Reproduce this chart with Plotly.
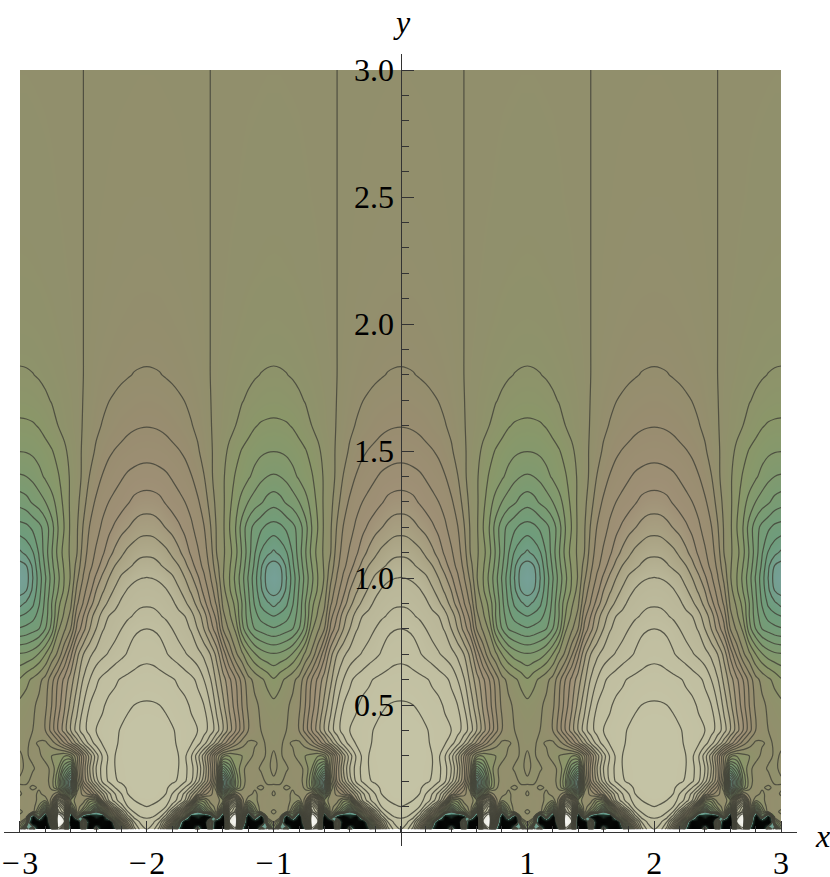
import numpy as np
import plotly.graph_objects as go

# distance from the nearest even x (light lobe) to the nearest odd x (dark lobe)
dx_cols = [0, .05, .1, .15, .2, .25, .3, .35, .4, .45, .5, .55, .6, .65, .7, .75, .8, .85, .9, .95, 1]

y_rows = [.01, .04, .06, .08, .1, .125, .15, .175, .2, .25, .3, .35, .4, .5, .6, .7, .8, .85, .9, .95,
          1.0, 1.05, 1.1, 1.2, 1.3, 1.4, 1.5, 1.6, 1.7, 1.8, 1.9, 2.0, 2.2, 2.5, 3.0]

z_rows = [
    [10, 9.3, 7.5, 3, -4, -14, -28, -24, -4, -28, -3, -28, -22, 10, 15, -12, -28, -24, -3, -14, -2],
    [10.5, 10.2, 9, 6, 1.5, -5, -24, -20, -26, -22, -2, -24, -26, 16, 19, -2, -24, -22, -24, -3, .5],
    [11.2, 11, 10.3, 8.5, 5, .5, -3.5, -22, -16, -24, -18, -4, -22, 15, 18, 2, -22, -6, -20, .6, .4],
    [11.7, 11.6, 11.1, 10, 7.5, 4, .5, -5, -11.5, -6, -3, .5, -9, 12, 14.5, 3, -9, -3, .6, .5, -.3],
    [12, 11.9, 11.6, 11, 9.5, 7.5, 4.5, -1, -6, -3.5, -.8, .6, -3, 10, 13.5, 2, -5, -1.2, .6, .3, .4],
    [12.2, 12.15, 12, 11.4, 10.7, 9.6, 8, 5.2, -1, -1.5, .5, .8, -1, 6, 9, 1.5, -.7, -.4, .6, .3, .5],
    [12.4, 12.35, 12.15, 12, 11, 10, 8.7, 6.7, 4.7, 2.5, 1.2, .5, -6, -2, 1.8, .6, .5, -.3, .5, .6, -.2],
    [12.45, 12.4, 12.3, 12.15, 11.7, 11, 10, 8.7, 6.6, 4.4, 2.5, -1, -12, -7, -2.5, -.3, .7, .2, -.3, .4, .2],
    [12.5, 12.48, 12.42, 12.3, 12.15, 11.9, 11.15, 10.2, 8.4, 6.3, 4, 0, -12.5, -8, -3, -.5, .5, .3, .6, -.4, -.2],
    [12.6, 12.55, 12.5, 12.35, 12.15, 12, 11.3, 10.4, 9, 7, 4.3, 1, -7, -5, -2, -.3, .4, .5, -.2, -.3, .3],
    [12.7, 12.65, 12.6, 12.45, 12.25, 12, 11.2, 10.1, 8.5, 6.5, 4, 1, -1.4, -1.9, -1.4, -1, -.4, .2, .4, -.2, .1],
    [12.65, 12.6, 12.55, 12.45, 12.2, 11.85, 11.5, 11.1, 10.4, 9.4, 8, 6.35, 4.65, 3, 1.5, .5, -.2, -.1, .15, -.1, -.15],
    [12.55, 12.52, 12.48, 12.4, 12.1, 11.8, 11.55, 11.3, 11, 10.4, 9.6, 8.5, 7, 5.5, 4, 2.4, 1, .5, 0, -.1, -.25],
    [12.1, 12.08, 12, 11.8, 11.6, 11.35, 11.25, 10.85, 10.4, 10, 9, 7.7, 6.3, 4.85, 3.45, 2, .75, .25, -.2, -.5, -.7],
    [11.5, 11.45, 11.35, 11.25, 11.1, 10.85, 10.55, 10.25, 9.8, 9, 8.1, 6.75, 5.5, 4.25, 3, 1.6, .35, -.3, -.8, -1.3, -1.9],
    [10.7, 10.65, 10.45, 10.1, 9.75, 9.45, 9.1, 8.75, 8.35, 7.8, 7, 5.7, 3.7, 1.85, .25, -.75, -2, -2.9, -3.5, -3.8, -3.9],
    [10, 9.95, 9.8, 9.5, 9, 8.6, 8.3, 7.9, 7, 6, 4.65, 3.3, 1, -.2, -1.2, -3.6, -5, -6, -6.4, -6.7, -6.9],
    [9.4, 9.35, 9.1, 8.8, 8.55, 8.3, 8, 7.35, 6.5, 5.55, 4, 2.65, .3, -.75, -2, -4, -5.5, -6.6, -7.4, -7.75, -8],
    [8.85, 8.8, 8.65, 8.4, 8.2, 7.7, 7.2, 6.55, 5.65, 4.45, 3.1, 1.85, -.2, -1.2, -2.35, -4, -5.7, -7.1, -8.2, -8.8, -9.35],
    [8.5, 8.45, 8.3, 8.1, 7.7, 7.2, 6.55, 5.85, 5, 3.65, 2.65, 1.3, -.6, -1.8, -3, -4.4, -5.9, -7.4, -8.8, -10, -10.4],
    [8.03, 7.97, 7.85, 7.55, 7.2, 6.55, 6, 5.25, 4.2, 3.2, 2.1, .8, -.9, -1.95, -3.25, -4.6, -6.1, -7.55, -9.05, -10.45, -10.9],
    [7.4, 7.35, 7.1, 6.75, 6.4, 6, 5.3, 4.4, 3.5, 2.7, 1.75, .35, -.85, -1.8, -3, -4.3, -5.8, -7.2, -8.8, -10, -10.4],
    [6.8, 6.75, 6.55, 6.25, 5.8, 5.25, 4.6, 3.8, 3.15, 2.45, 1.5, 0, -.8, -1.6, -2.7, -4.1, -5.5, -6.9, -8.1, -8.7, -9.2],
    [5.6, 5.55, 5.3, 4.95, 4.64, 4.18, 3.7, 3.17, 2.6, 2.05, 1.1, -.1, -.8, -1.95, -3, -4.4, -5.55, -6.3, -6.8, -7.25, -7.4],
    [4.45, 4.4, 4.25, 3.9, 3.55, 3.3, 3, 2.65, 2.15, 1.55, .65, -.3, -.8, -1.7, -2.6, -3.35, -4, -4.5, -4.85, -5.35, -5.6],
    [3.45, 3.42, 3.3, 3.15, 2.9, 2.62, 2.35, 2.05, 1.55, 1.05, .2, -.35, -.85, -1.5, -2.1, -2.45, -2.85, -3.3, -3.75, -4, -4.1],
    [2.6, 2.57, 2.5, 2.38, 2.2, 2.05, 1.85, 1.5, 1.15, .6, .15, -.3, -.7, -1.17, -1.65, -2.07, -2.35, -2.6, -2.8, -2.93, -2.97],
    [1.96, 1.94, 1.88, 1.78, 1.65, 1.48, 1.27, 1.07, .75, .38, .05, -.2, -.45, -.72, -1, -1.33, -1.65, -1.93, -2.1, -2.17, -2.2],
    [1.5, 1.48, 1.42, 1.33, 1.25, 1.12, .98, .75, .52, .26, .02, -.18, -.38, -.58, -.76, -.95, -1.13, -1.3, -1.43, -1.52, -1.55],
    [1.08, 1.07, 1.03, .95, .86, .76, .65, .53, .39, .2, 0, -.13, -.27, -.42, -.57, -.7, -.82, -.93, -1.02, -1.07, -1.09],
    [.83, .81, .79, .73, .66, .58, .5, .4, .29, .15, 0, -.1, -.2, -.32, -.43, -.53, -.62, -.71, -.78, -.82, -.83],
    [.65, .64, .62, .57, .52, .46, .39, .31, .22, .11, 0, -.07, -.15, -.24, -.33, -.41, -.49, -.56, -.61, -.64, -.65],
    [.42, .41, .4, .37, .33, .29, .25, .2, .14, .07, 0, -.05, -.1, -.15, -.21, -.26, -.31, -.36, -.39, -.41, -.42],
    [.25, .25, .24, .22, .2, .18, .15, .12, .08, .04, 0, -.03, -.06, -.09, -.12, -.16, -.19, -.21, -.23, -.25, -.25],
    [.12, .12, .11, .1, .09, .08, .07, .05, .03, .02, 0, -.01, -.02, -.03, -.05, -.07, -.09, -.1, -.11, -.12, -.12],
]

color_z = [-30, -20, -14, -12.5, -11, -8, -5, -2, 0, 2, 4, 6, 8, 10, 13, 15, 20]
color_hex = ["#000000", "#060806", "#20332b", "#5f9a87", "#76a098", "#6e9c7c", "#7a9b72", "#8a9769",
             "#918f6c", "#998d70", "#9f9076", "#a9a283", "#b9b698", "#c0bea0", "#c5c4a6", "#e5e5d8", "#ffffff"]

x_ticks = [-3, -2, -1, 1, 2, 3]
x_tick_text = ["\u2212\u200a3", "\u2212\u200a2", "\u2212\u200a1", "1", "2", "3"]
y_ticks = [.5, 1, 1.5, 2, 2.5, 3]
y_tick_text = ["0.5", "1.0", "1.5", "2.0", "2.5", "3.0"]

# the field repeats every 2 in x and mirrors about each lobe, so one half period is tiled out
half = np.array(z_rows)
x_full = np.arange(-60, 61) / 20
col_idx = [int(round(abs(((x + 1) % 2) - 1) / .05)) for x in x_full]
z_full = half[:, col_idx]

colorscale = [[(z + 30) / 50, c] for z, c in zip(color_z, color_hex)]

SERIF = "Liberation Serif"

fig = go.Figure(
    go.Contour(
        x=x_full,
        y=y_rows,
        z=z_full,
        zmin=-30,
        zmax=20,
        colorscale=colorscale,
        showscale=False,
        contours=dict(coloring="heatmap", start=-12, end=16, size=1, showlines=True),
        line=dict(color="rgba(68,68,58,0.85)", width=1.2, smoothing=1),
        hoverinfo="skip",
    )
)
fig.update_layout(
    width=830,
    height=877,
    margin=dict(l=4, r=33, t=54, b=31, autoexpand=False),
    paper_bgcolor="white",
    plot_bgcolor="white",
    font=dict(family=SERIF, size=32, color="black"),
    xaxis=dict(
        range=[-3.126, 3.126],
        anchor="free",
        position=0.0176,
        automargin=False,
        showgrid=False,
        zeroline=False,
        showline=True,
        linecolor="#333",
        linewidth=1,
        tickmode="array",
        tickvals=x_ticks,
        ticktext=x_tick_text,
        ticks="inside",
        ticklen=11,
        tickcolor="#333",
        ticklabeloverflow="allow",
        ticklabelstandoff=3,
        minor=dict(dtick=0.2, tick0=0, ticks="inside", ticklen=6, tickcolor="#333", showgrid=False),
    ),
    yaxis=dict(
        range=[-0.055, 3.063],
        anchor="free",
        position=0.5,
        side="left",
        automargin=False,
        showgrid=False,
        zeroline=False,
        showline=True,
        linecolor="#333",
        linewidth=1,
        tickmode="array",
        tickvals=y_ticks,
        ticktext=y_tick_text,
        ticks="inside",
        ticklen=12,
        tickcolor="#333",
        minor=dict(dtick=0.1, tick0=0, ticks="inside", ticklen=7, tickcolor="#333", showgrid=False),
    ),
    annotations=[
        dict(text="<i>y</i>", xref="paper", yref="paper", x=0.5025, y=1.0, yshift=12,
             xanchor="center", yanchor="bottom", showarrow=False, font=dict(family=SERIF, size=32)),
        dict(text="<i>x</i>", xref="paper", yref="paper", x=1.0, xshift=25, y=0.0176, yshift=-4,
             xanchor="center", yanchor="middle", showarrow=False, font=dict(family=SERIF, size=32)),
    ],
)
fig.write_html("out.html", config=dict(displayModeBar=False), post_script="document.body.style.margin='0'")
